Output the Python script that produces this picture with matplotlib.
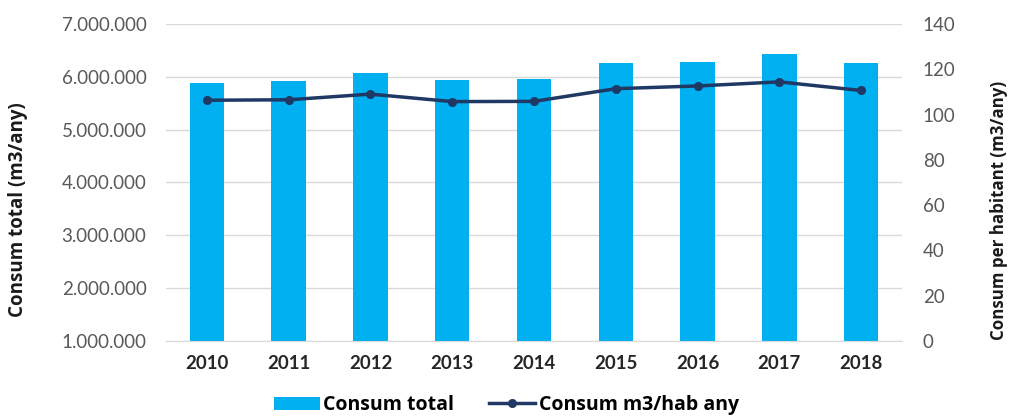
import matplotlib
matplotlib.use("Agg")
import matplotlib.pyplot as plt
from matplotlib.ticker import FuncFormatter

years = ["2010", "2011", "2012", "2013", "2014", "2015", "2016", "2017", "2018"]
consum_total = [5880000, 5920000, 6070000, 5940000, 5960000, 6260000, 6280000, 6430000, 6260000]
consum_hab = [106.3, 106.5, 109.0, 105.7, 105.8, 111.4, 112.6, 114.4, 110.6]

plt.rcParams['font.family'] = ['Lato', 'DejaVu Sans']
label_font = ['Open Sans', 'DejaVu Sans']

fig = plt.figure(figsize=(10.09, 4.19), dpi=100)
ax = fig.add_axes([0.1645, 0.186, 0.7295, 0.757])
ax2 = ax.twinx()

x = list(range(len(years)))
bars = ax.bar(x, consum_total, width=0.42, color="#00B0F0", zorder=2, label="Consum total")
ax.set_ylim(1000000, 7000000)
ax.set_yticks([1000000, 2000000, 3000000, 4000000, 5000000, 6000000, 7000000])
ax.yaxis.set_major_formatter(FuncFormatter(lambda v, p: f"{int(v):,}".replace(",", ".")))
ax.set_xlim(-0.5, len(years) - 0.5)
ax.set_xticks(x)
ax.set_xticklabels(years, fontweight="bold", fontsize=13.4, color="#262626")
ax.grid(axis="y", color="#D9D9D9", linewidth=1, zorder=0)
ax.set_axisbelow(True)
for s in ["top", "left", "right"]:
    ax.spines[s].set_visible(False)
ax.spines["bottom"].set_color("#D9D9D9")
ax.tick_params(axis="both", length=0)
ax.tick_params(axis="y", labelsize=13.5, labelcolor="#595959", pad=14)
ax.tick_params(axis="x", pad=10)
ax.set_ylabel("Consum total (m3/any)", fontsize=13.5, fontweight="bold", color="#1a1a1a",
              family=label_font)
ax.yaxis.set_label_coords(-0.1875, 0.413)

line, = ax2.plot(x, consum_hab, color="#1F3864", linewidth=2.5, marker="o", markersize=5.5,
                 zorder=3, label="Consum m3/hab any")
ax2.set_ylim(0, 140)
ax2.set_yticks([0, 20, 40, 60, 80, 100, 120, 140])
for s in ["top", "left", "right", "bottom"]:
    ax2.spines[s].set_visible(False)
ax2.tick_params(axis="y", length=0, labelsize=13.5, labelcolor="#595959", pad=15)
ax2.set_ylabel("Consum per habitant (m3/any)", fontsize=12.2, fontweight="bold", color="#1a1a1a",
               family=label_font)
ax2.yaxis.set_label_coords(1.1196, 0.413)

fig.legend([bars, line], ["Consum total", "Consum m3/hab any"], loc="center",
           bbox_to_anchor=(0.502, 0.033), ncol=2, frameon=False,
           handlelength=2.36, columnspacing=1.8, handletextpad=0.2,
           prop={"weight": "bold", "size": 14.0, "family": label_font})

fig.savefig("out.png", dpi=100)
